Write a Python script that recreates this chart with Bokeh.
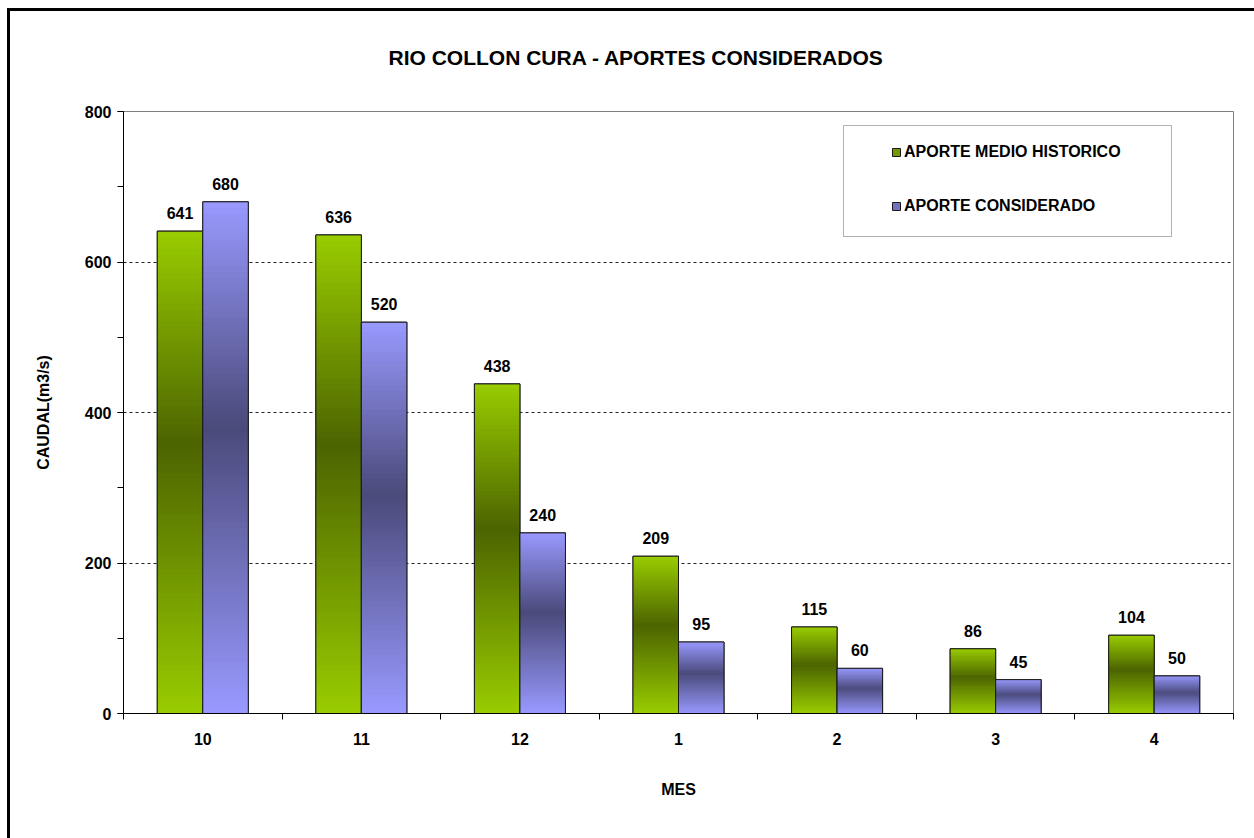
import numpy as np
from bokeh.plotting import figure
from bokeh.models import (Range1d, ColumnDataSource, LinearAxis, FixedTicker,
                          SingleIntervalTicker, Legend, LegendItem,
                          BoxAnnotation, Grid, InlineStyleSheet)
from bokeh.transform import dodge
from bokeh.embed import file_html
from bokeh.resources import INLINE
from bokeh.core.properties import value

# ---- data ----
months = ["10", "11", "12", "1", "2", "3", "4"]
historico = [641, 636, 438, 209, 115, 86, 104]
considerado = [680, 520, 240, 95, 60, 45, 50]
series_names = ["APORTE MEDIO HISTORICO", "APORTE CONSIDERADO"]
title_text = "RIO COLLON CURA -  APORTES CONSIDERADOS"

FONT = value("Liberation Sans")
light = [(153, 204, 0), (153, 153, 255)]
dark = [(76, 100, 0), (74, 74, 122)]
mid = ["#739a00", "#7373c0"]
offsets = [-0.1435, 0.1435]
BW = 0.287
N = 80
PEAK = 0.56

ncat = len(months)
centers = [i + 0.5 for i in range(ncat)]

p = figure(width=1254, height=838, x_range=Range1d(0, ncat), y_range=Range1d(0, 800),
           output_backend="svg", toolbar_location=None, x_axis_location=None, y_axis_location=None,
           min_border_left=123, min_border_right=21, min_border_top=111, min_border_bottom=125)
p.outline_line_color = "#808080"
p.outline_line_width = 1
p.background_fill_color = "white"
p.border_fill_color = "white"

# title
p.title.text = title_text
p.title.align = "left"
p.title.offset = 265
p.title.standoff = 85
p.title.text_font = "Liberation Sans"
p.title.text_font_style = "bold"
p.title.text_font_size = "21px"
p.title.text_color = "black"

# grid (remove default grids, keep only dashed horizontal)
p.center = [r for r in p.center if not isinstance(r, Grid)]
yticker = SingleIntervalTicker(interval=200, num_minor_ticks=2)
p.add_layout(Grid(dimension=1, ticker=yticker, grid_line_color="#222222", grid_line_dash="3 3",
                  grid_line_width=1))

def hexcol(c):
    return "#%02x%02x%02x" % tuple(int(round(v)) for v in c)

base_renderers = []
for s, vals in enumerate([historico, considerado]):
    src = ColumnDataSource(dict(x=centers, top=vals, lab=[str(v) for v in vals]))
    xs = dodge("x", offsets[s])
    r = p.vbar(x=xs, top="top", bottom=0, width=BW, source=src, fill_color=mid[s],
               line_color="#1a1a1a", line_width=1)
    base_renderers.append(r)
    # gradient strips
    sx, sb, st, sc = [], [], [], []
    for cx, v in zip(centers, vals):
        for k in range(N):
            t = (k + 0.5) / N
            f = t / PEAK if t < PEAK else (1 - t) / (1 - PEAK)
            c = [light[s][i] + (dark[s][i] - light[s][i]) * f for i in range(3)]
            sx.append(cx)
            sb.append(v * k / N)
            st.append(min(v, v * (k + 1.6) / N))
            sc.append(hexcol(c))
    ssrc = ColumnDataSource(dict(x=sx, bottom=sb, top=st, color=sc))
    p.vbar(x=dodge("x", offsets[s]), top="top", bottom="bottom", width=BW,
           source=ssrc, fill_color="color", line_color=None)
    # outline
    p.vbar(x=xs, top="top", bottom=0, width=BW, source=src, fill_color=None,
           line_color="#1a1a1a", line_width=1)
    # value labels
    p.text(x=xs, y="top", text="lab", source=src, text_align="center", text_baseline="bottom",
           y_offset=-12, text_font=FONT, text_font_style="bold", text_font_size="16px",
           text_color="black")

# y axis
yaxis = LinearAxis(ticker=yticker, axis_label="CAUDAL(m3/s)")
yaxis.axis_line_color = "black"
yaxis.major_tick_out = 6
yaxis.major_tick_in = 0
yaxis.minor_tick_out = 6
yaxis.minor_tick_in = 0
yaxis.major_label_standoff = 6
yaxis.major_label_text_font = "Liberation Sans"
yaxis.major_label_text_font_style = "bold"
yaxis.major_label_text_font_size = "16px"
yaxis.major_label_text_color = "black"
yaxis.axis_label_text_font = "Liberation Sans"
yaxis.axis_label_text_font_style = "bold"
yaxis.axis_label_text_font_size = "16px"
yaxis.axis_label_text_color = "black"
yaxis.axis_label_standoff = 30
p.add_layout(yaxis, "left")

# x axis: boundary ticks
tick_axis = LinearAxis(ticker=FixedTicker(ticks=list(range(ncat + 1)), minor_ticks=[]))
tick_axis.axis_line_color = "black"
tick_axis.major_tick_out = 6
tick_axis.major_tick_in = 0
tick_axis.minor_tick_line_color = None
tick_axis.major_label_text_font_size = "0px"
tick_axis.major_label_standoff = 0
tick_axis.major_label_overrides = {i: "" for i in range(ncat + 1)}
p.add_layout(tick_axis, "below")

# x axis: month labels at category centres
cat_axis = LinearAxis(ticker=FixedTicker(ticks=centers, minor_ticks=[]), axis_label="MES")
cat_axis.major_label_overrides = {c: m for c, m in zip(centers, months)}
cat_axis.axis_line_color = None
cat_axis.major_tick_line_color = None
cat_axis.minor_tick_line_color = None
cat_axis.major_tick_out = 0
cat_axis.major_tick_in = 0
cat_axis.major_label_standoff = 13
cat_axis.major_label_text_font = "Liberation Sans"
cat_axis.major_label_text_font_style = "bold"
cat_axis.major_label_text_font_size = "16px"
cat_axis.major_label_text_color = "black"
cat_axis.axis_label_text_font = "Liberation Sans"
cat_axis.axis_label_text_font_style = "bold"
cat_axis.axis_label_text_font_size = "16px"
cat_axis.axis_label_text_color = "black"
cat_axis.axis_label_standoff = 33
p.add_layout(cat_axis, "below")

# legend box + legend
p.add_layout(BoxAnnotation(left=720, right=1048, top=588, bottom=477,
                           left_units="screen", right_units="screen",
                           top_units="screen", bottom_units="screen",
                           fill_color="white", fill_alpha=1, line_color="black", line_width=1,
                           level="overlay"))
legend = Legend(items=[LegendItem(label=series_names[i], renderers=[base_renderers[i]])
                       for i in range(2)],
                location=(768, 497), padding=0, margin=0, spacing=34, glyph_width=10,
                glyph_height=10, label_standoff=3, label_height=20, border_line_alpha=0,
                background_fill_alpha=0, label_text_font="Liberation Sans",
                label_text_font_style="bold", label_text_font_size="16px",
                label_text_color="black")
p.add_layout(legend)

# outer chart-area border (left and top edges visible in the window)
p.stylesheets = [InlineStyleSheet(css="""
:host { position: relative; }
:host::after {
  content: ""; position: absolute; left: 7px; top: 8px; width: 1247px; height: 830px;
  border-left: 3px solid black; border-top: 3px solid black; box-sizing: border-box;
  pointer-events: none;
}
""")]

open("out.html", "w").write(file_html(p, INLINE))
